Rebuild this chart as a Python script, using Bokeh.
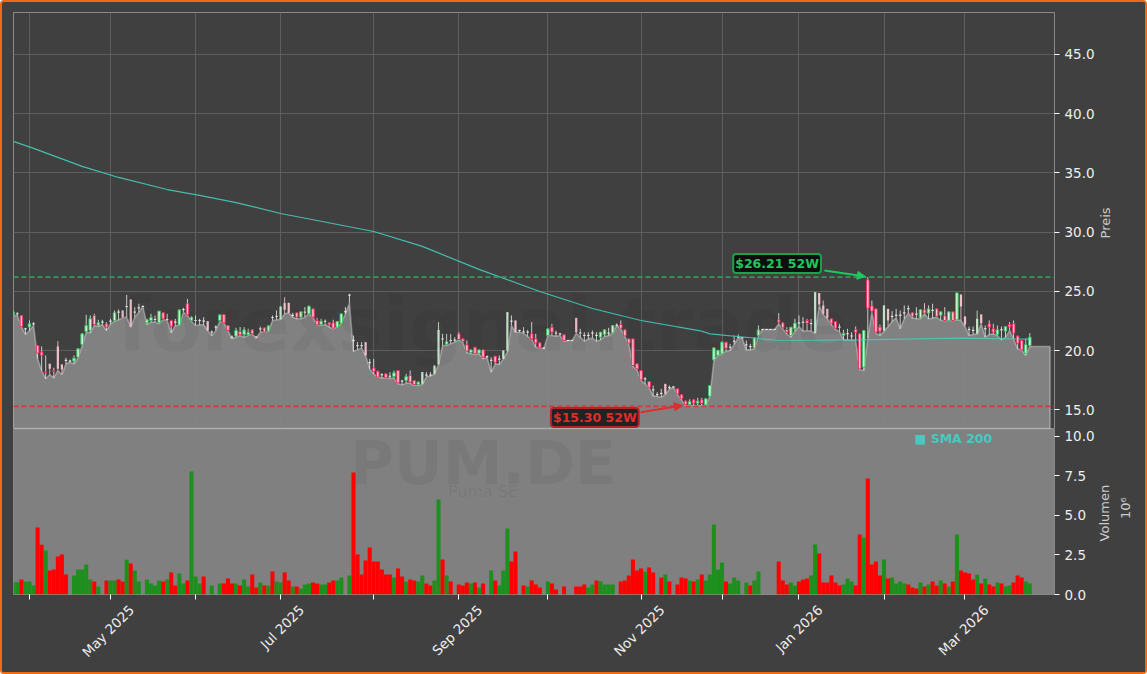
from math import pi
from bokeh.embed import file_html
from bokeh.resources import INLINE
from bokeh.plotting import figure
from bokeh.layouts import column
from bokeh.models import (FixedTicker, Label, LinearAxis, Span, Arrow, NormalHead,
                          NumeralTickFormatter)

opens = [
 23.06,23.13,22.97,21.85,21.99,22.28,20.44,19.88,18.20,18.89,
 18.30,20.36,18.84,19.20,19.13,19.12,19.46,20.53,21.62,21.71,
 22.97,22.13,22.42,22.27,22.51,22.55,23.27,23.39,23.74,24.32,
 23.27,23.63,23.73,22.35,22.55,22.64,22.35,23.20,22.64,22.55,
 22.42,22.18,23.47,23.96,22.55,22.56,22.56,22.50,22.49,21.57,
 22.00,22.55,23.06,22.13,21.16,21.23,21.62,21.34,21.34,21.76,
 21.23,21.85,21.93,21.65,22.80,22.90,22.64,24.01,24.04,23.00,
 23.20,22.83,23.26,23.11,23.53,22.55,22.21,22.49,22.35,22.35,
 21.99,22.33,23.30,24.70,20.88,20.44,20.44,20.72,19.00,18.55,
 18.27,17.98,18.05,17.85,17.82,18.33,17.44,17.49,17.91,17.49,
 17.15,17.20,17.95,17.95,18.05,18.84,21.00,20.52,20.87,20.90,
 21.42,21.00,20.50,19.85,20.30,19.79,20.07,19.50,19.20,19.54,
 19.30,19.31,20.02,22.50,22.55,21.72,21.60,21.58,21.42,21.00,
 20.66,20.23,21.28,21.99,21.50,21.43,21.34,20.87,20.87,22.77,
 21.50,21.30,21.30,21.50,21.30,21.14,21.37,21.49,21.51,22.15,
 22.21,21.76,21.00,21.00,18.89,18.33,17.63,17.40,16.70,16.30,
 16.40,17.20,16.90,16.95,16.78,16.28,15.75,15.46,15.85,15.57,
 15.85,15.43,16.16,19.23,19.60,19.74,20.72,20.30,20.80,21.16,
 21.10,20.50,20.35,20.24,21.28,21.80,21.80,21.80,21.80,22.61,
 22.35,21.79,21.28,21.85,22.35,22.41,22.55,22.30,21.48,24.86,
 23.82,23.53,22.69,22.46,22.00,21.28,21.44,21.25,21.79,21.42,
 18.61,25.98,23.79,23.53,21.99,21.71,23.53,22.90,23.00,23.00,
 23.20,23.55,23.20,23.10,22.77,23.45,23.17,23.41,23.53,23.00,
 22.94,22.55,23.28,22.61,24.74,22.89,21.80,21.72,21.45,23.06,
 21.86,22.27,21.85,21.37,21.78,21.65,22.21,22.27,21.23,20.86,
 19.79,20.44]
closes = [
 23.25,23.11,22.04,21.82,22.27,22.25,19.79,19.60,18.15,18.47,
 18.25,18.47,18.42,19.18,19.11,19.37,20.16,21.42,22.13,22.69,
 22.21,22.35,22.40,21.99,22.49,23.20,23.25,22.83,23.72,21.99,
 23.25,23.60,23.72,22.61,22.80,22.62,23.34,22.69,22.62,22.07,
 22.40,23.45,23.45,23.03,22.83,22.54,22.54,22.48,21.71,21.55,
 21.98,23.03,22.35,21.71,21.14,21.71,21.34,21.76,21.54,21.42,
 21.06,21.83,21.57,22.10,22.78,22.88,23.73,23.45,23.20,22.98,
 22.83,23.28,23.24,23.76,22.83,22.18,22.49,22.47,22.18,21.90,
 22.47,23.11,23.28,24.68,20.84,20.42,20.42,19.60,18.98,18.24,
 17.77,17.96,17.71,17.83,18.13,17.29,17.42,17.82,17.35,17.15,
 17.35,18.19,17.93,17.93,18.75,21.76,20.98,20.78,20.85,20.88,
 20.95,20.80,19.96,20.07,19.74,20.07,19.45,19.48,19.18,19.03,
 19.28,20.02,23.25,22.48,21.56,21.70,21.58,21.56,21.00,20.66,
 20.24,20.21,21.85,21.56,21.48,21.41,20.86,20.86,20.86,21.56,
 21.48,21.28,21.28,21.48,21.28,21.56,21.76,21.47,22.13,22.13,
 21.90,21.25,20.64,18.75,18.47,17.54,17.61,16.92,16.68,16.28,
 16.38,16.36,16.88,16.93,16.36,15.94,15.46,15.71,15.57,15.74,
 15.57,15.94,17.06,20.24,20.02,20.72,20.21,20.28,20.78,21.14,
 21.08,20.48,20.33,21.09,21.76,21.79,21.79,21.79,21.79,22.41,
 21.93,21.56,21.99,22.32,22.33,22.39,22.32,22.28,24.94,23.90,
 23.11,22.77,22.32,21.90,21.98,21.48,21.42,21.23,21.56,18.47,
 21.71,23.59,23.34,21.56,21.65,23.82,22.55,22.88,22.98,22.98,
 23.18,23.53,22.91,23.08,23.45,23.17,23.53,23.39,22.89,23.28,
 22.55,23.28,22.55,24.88,23.73,22.21,21.78,21.70,22.69,22.32,
 21.84,21.99,21.56,21.76,21.76,22.04,21.99,21.48,20.64,20.07,
 20.50,21.14]
highs = [
 23.39,23.25,23.00,21.93,22.55,22.41,20.44,20.36,19.60,18.89,
 18.56,20.81,18.84,19.40,19.25,19.60,20.20,21.50,23.03,22.97,
 23.11,22.61,22.61,22.41,22.69,23.39,23.48,23.39,24.72,24.32,
 23.68,23.96,23.84,22.70,23.11,22.97,23.34,23.25,23.11,22.60,
 22.69,23.45,23.62,24.38,22.90,22.97,22.69,22.83,22.49,21.71,
 22.13,23.03,23.06,22.15,21.28,21.93,21.99,21.99,21.85,21.80,
 21.25,22.04,21.95,22.10,22.97,23.39,23.73,24.52,24.04,23.20,
 23.22,23.30,23.68,23.80,23.55,22.78,22.69,22.64,22.40,22.61,
 22.50,23.11,23.68,24.80,21.28,20.72,20.72,20.72,19.31,19.31,
 18.30,18.10,18.05,18.19,18.33,18.33,17.54,18.05,18.33,17.50,
 17.40,18.19,18.19,18.19,18.75,22.41,21.42,21.42,21.42,21.14,
 21.56,21.00,20.86,20.10,20.30,20.10,20.07,19.60,19.45,19.54,
 19.60,20.02,23.25,22.97,22.55,21.76,21.99,21.76,22.41,21.42,
 20.70,20.28,21.85,22.27,21.70,21.50,21.36,20.90,20.90,22.77,
 21.85,21.56,21.56,21.70,21.56,21.58,21.80,21.93,22.15,22.30,
 22.55,21.80,21.05,21.00,18.90,18.35,17.77,17.40,17.06,16.50,
 16.78,17.20,17.06,17.00,16.80,16.30,15.80,15.90,15.90,16.02,
 16.02,16.00,17.10,20.30,20.10,20.80,20.75,20.58,21.28,21.37,
 21.14,20.86,20.58,21.10,22.13,21.82,21.82,21.82,21.82,23.17,
 22.40,21.99,22.00,22.69,22.97,22.83,22.69,22.69,24.94,24.86,
 24.24,23.53,22.70,22.50,22.27,21.76,21.85,21.56,22.04,21.45,
 21.75,26.21,24.24,23.55,22.20,23.82,23.53,23.34,23.53,23.39,
 23.82,23.82,23.25,23.67,23.50,24.01,23.82,23.96,23.55,23.30,
 23.67,23.30,23.30,24.88,24.74,22.89,22.04,22.04,23.39,23.06,
 22.13,22.55,22.27,22.13,22.04,22.06,22.41,22.55,21.28,20.90,
 21.00,21.48]
lows = [
 22.97,22.97,22.04,21.37,21.71,22.13,19.32,18.33,17.63,17.99,
 17.71,18.33,17.99,18.89,19.03,18.89,19.40,20.44,21.57,21.51,
 22.13,22.04,22.21,21.71,22.27,22.49,22.61,22.78,22.83,21.99,
 22.83,23.25,23.72,22.21,22.41,22.41,22.27,22.64,22.55,21.51,
 22.13,22.15,23.25,22.97,22.49,22.13,22.19,22.19,21.71,21.26,
 21.71,22.49,22.35,21.71,21.00,21.14,21.28,21.14,21.28,21.40,
 21.06,21.57,21.57,21.62,22.55,22.61,22.64,23.11,23.20,22.83,
 22.69,22.69,22.83,23.11,22.83,22.13,22.13,22.21,21.99,21.85,
 21.99,22.33,23.11,24.01,19.93,20.07,20.24,19.60,18.47,18.05,
 17.77,17.71,17.71,17.65,17.71,17.20,17.12,17.26,17.26,17.09,
 17.06,17.15,17.82,17.85,18.05,18.84,20.44,20.44,20.58,20.72,
 20.92,20.72,19.82,19.74,19.68,19.74,19.31,19.45,18.19,18.89,
 18.84,19.31,19.88,22.13,21.56,21.56,21.48,21.20,21.00,20.30,
 20.21,20.21,21.28,21.28,21.23,21.28,20.80,20.86,20.86,21.48,
 21.14,20.80,21.00,21.06,20.80,20.92,21.20,21.28,21.48,22.13,
 21.85,21.20,20.58,18.67,18.39,17.49,17.20,16.87,16.19,16.13,
 16.08,16.30,16.75,16.92,16.30,15.85,15.38,15.38,15.38,15.38,
 15.38,15.38,16.16,19.17,19.60,19.74,19.96,20.02,20.52,21.09,
 21.06,20.07,20.07,20.16,21.28,21.79,21.79,21.79,21.79,22.27,
 21.85,21.42,21.14,21.65,22.04,21.65,21.71,21.65,21.48,23.82,
 23.05,22.69,22.21,21.79,21.62,20.92,20.92,20.86,20.92,18.39,
 18.33,21.06,23.25,21.48,21.28,21.65,22.04,22.46,22.77,21.85,
 22.69,23.17,22.77,22.69,22.69,23.11,22.69,22.75,22.83,22.55,
 22.55,22.55,22.55,22.61,22.55,22.04,21.28,21.37,21.42,22.27,
 21.14,21.37,21.42,21.28,20.92,21.14,21.71,21.00,20.16,20.07,
 19.60,20.35]
area_tail = [20.35, 20.35, 20.35, 20.35, 20.35]
pale_bars = [9,11,12,27,29,48,60,66,67,68,87,101,104,105,121,122,124,139,161,
             198,199,200,201,215,216,234,235,238,239]
volumes = [
 .78,.78,.95,.82,.82,.57,4.24,3.14,2.78,1.52,
 1.58,2.41,2.53,1.27,0,1.2,1.58,1.58,1.9,.95,
 .82,.5,0,.89,.89,.89,.95,.82,2.2,1.96,
 1.52,.82,0,.95,.7,.57,.89,.82,.95,1.39,
 .57,1.33,.7,.89,7.78,1.14,.7,1.14,0,.57,
 0,.7,.7,1.01,.7,.7,.57,.95,.5,1.27,
 .44,.76,.57,.57,1.46,.82,.76,1.39,.89,.5,
 .5,.38,.63,.7,.76,.7,.63,.63,.76,.89,
 .89,1.08,0,1.2,7.72,2.53,1.27,2.15,2.97,2.09,
 2.09,1.58,1.27,1.27,1.08,1.65,1.14,.82,.95,.89,
 .82,1.2,.7,.57,.89,6.01,2.22,1.2,.82,0,
 .63,.57,.76,.7,.76,.44,.7,0,1.52,.89,
 .57,1.52,4.18,2.09,2.72,0,.57,.5,.89,.63,
 .44,0,.82,.7,.32,0,.5,0,0,.5,
 .5,.63,.44,.63,.89,.82,.63,.63,.63,0,
 .82,.89,1.2,2.22,1.52,1.65,1.46,1.71,1.39,0,
 1.08,1.27,.82,0,.63,1.08,1.01,.89,.82,.95,
 1.27,.89,1.27,4.43,1.58,2.03,.82,.7,1.08,.89,
 0,.76,.57,.89,1.46,0,0,0,0,2.09,
 .89,.63,.76,.57,.82,.95,1.01,1.2,3.16,2.59,
 .76,.76,1.2,.76,.57,.63,1.01,.82,.57,3.8,
 3.61,7.34,1.9,2.09,1.2,2.22,1.01,1.08,.7,.82,
 .7,.63,.44,.38,.76,.5,.63,.82,.57,.89,
 .7,.5,.82,3.8,1.52,1.39,1.33,.95,1.27,.7,
 1.01,.63,.5,.76,.7,.5,.57,.76,1.2,1.08,
 .82,.7]
vol_dir = list(
 "GGRGGGRRGR" "RRRRGGGGGG" "RGGRGGRRGR" "GGGGGGGRGR" "RGGRGGGRGG"
 "GGRRRGRGGR" "RGRGRGGRRG" "RGGGRRGGRR" "GGGGRRRRRR" "RRRRGRRGRR"
 "GGRRGGRGRG" "RRRGRGRGGR" "GGGRRGRGRR" "RGGRRGRGGR" "RRGGRGGGGG"
 "RRRRRRGRRG" "RGRGRRRGRG" "RGGGGGRGGG" "GGRGGGGGGR" "RRGGRRRGGR"
 "RRRRRGGGRR" "GRRRRGRGGG" "GRRRGRGRRG" "RGRGRRRRGR" "GRRGRGGRRR" "GG")
sma_idx = [0,5,17,26,38,46,55,66,75,89,101,115,130,143,155,170,172,184,189,209,234,251]
sma_val = [37.66,37.07,35.55,34.62,33.60,33.10,32.50,31.58,30.99,30.06,28.80,26.86,
           25.00,23.56,22.55,21.65,21.42,21.03,20.86,20.92,21.06,20.97]
month_ticks = [4,24,45,66,89,110,132,155,175,194,215,235]
month_labels = ["","May 2025","","Jul 2025","","Sep 2025","","Nov 2025","","Jan 2026","","Mar 2026"]
price_ticks = [15,20,25,30,35,40,45]
vol_ticks = [0,2.5,5,7.5,10]
high_52w = 26.21
low_52w = 15.30
high_label = "$26.21 52W"
low_label = "$15.30 52W"

assert all(len(s) == 252 for s in (opens, closes, highs, lows, volumes, vol_dir)), \
    [len(s) for s in (opens, closes, highs, lows, volumes, vol_dir)]

BG = "#404040"
FONT = "DejaVu Sans"
ORANGE = "#f26a10"
xr = (0.05, 257.1)

p1 = figure(width=1143, height=427, x_range=xr, y_range=(13.35, 48.54), output_backend="svg",
            toolbar_location=None, y_axis_location="right", min_border_top=10, min_border_bottom=0,
            min_border_left=11, min_border_right=91, background_fill_color=BG, border_fill_color=BG,
            outline_line_color="#8a8a8a")
p2 = figure(width=1143, height=243, x_range=p1.x_range, y_range=(0, 10.44), output_backend="svg",
            toolbar_location=None, y_axis_location="right", min_border_top=0, min_border_bottom=78,
            min_border_left=11, min_border_right=91, background_fill_color="#808080", border_fill_color=BG,
            outline_line_color="#8a8a8a")
for p in (p1, p2):
    for ax in p.yaxis:
        ax.axis_line_color = None
        ax.major_tick_line_color = "#ffffff"
        ax.major_tick_out = 5
        ax.major_tick_in = 0
        ax.minor_tick_line_color = None
        ax.major_label_text_color = "#eeeeee"
        ax.major_label_text_font = FONT
        ax.major_label_text_font_size = "13.5px"
        ax.major_label_standoff = 5
    p.ygrid.grid_line_color = "#5e5e5e"
    p.xgrid.grid_line_color = "#5e5e5e"
    p.xgrid.ticker = FixedTicker(ticks=month_ticks)

p1.xaxis.visible = False
p1.yaxis.ticker = FixedTicker(ticks=price_ticks)
p1.yaxis.formatter = NumeralTickFormatter(format="0.0")

p2.ygrid.visible = False
p2.xgrid.visible = False
p2.yaxis.ticker = FixedTicker(ticks=vol_ticks)
p2.yaxis.formatter = NumeralTickFormatter(format="0.0")
p2.xaxis.ticker = FixedTicker(ticks=month_ticks)
p2.xaxis.major_label_overrides = {t: "" for t in month_ticks}
p2.xaxis.axis_line_color = None
p2.xaxis.major_tick_line_color = "#ffffff"
p2.xaxis.major_tick_out = 5
p2.xaxis.major_tick_in = 0
p2.xaxis.minor_tick_line_color = None


def text_axis(p, place, ticks, texts, angle, size, color, standoff):
    """An axis with no line and no ticks: it only carries rotated texts outside the frame."""
    ax = LinearAxis(ticker=FixedTicker(ticks=ticks),
                    major_label_overrides=dict(zip(ticks, texts)),
                    major_label_orientation=angle, major_label_standoff=standoff,
                    major_label_text_font=FONT, major_label_text_font_size=size,
                    major_label_text_color=color, axis_line_color=None,
                    major_tick_line_color=None, minor_tick_line_color=None,
                    major_tick_out=0, major_tick_in=0)
    p.add_layout(ax, place)
    return ax


text_axis(p1, "right", [29.47], ["Preis"], pi / 2, "13px", "#cccccc", 8)
text_axis(p2, "right", [3.36], ["Volumen"], pi / 2, "13px", "#cccccc", 7)
text_axis(p2, "right", [4.78], ["10⁶"], pi / 2, "13px", "#cccccc", 3)
# rotated month names hang from their end, so that they centre on the month tick above
month_shift = 5.2
named = [(t, lab) for t, lab in zip(month_ticks, month_labels) if lab]
text_axis(p2, "below", [t + month_shift for t, _ in named], [lab for _, lab in named], pi / 4,
          "13.5px", "#eeeeee", 8)

# area under the daily lows, closing at the panel foot
area_y = lows + area_tail
area_x = list(range(len(area_y)))
base = 13.44
p1.patch(x=[area_x[0]] + area_x + [area_x[-1]], y=[base] + area_y + [base],
         fill_color="#848484", fill_alpha=0.96, line_color="#ffffff", line_alpha=0.34, line_width=1.6)

# candles
GREEN_EDGE, GREEN_FILL = "#3fbf63", "#d9f5dd"
RED_EDGE, RED_FILL = "#e9305f", "#ffc6d2"
PALE_GREEN, PALE_RED = "#c3e3c8", "#eec0ca"
n = len(opens)
idx = list(range(n))
body_top = [max(o, c) for o, c in zip(opens, closes)]
body_bot = [min(o, c) for o, c in zip(opens, closes)]
wick_col, kind = [], []
for i in idx:
    up = closes[i] >= opens[i]
    if i in pale_bars:
        kind.append("pale")
        wick_col.append(PALE_GREEN if up else PALE_RED)
    elif abs(closes[i] - opens[i]) < 0.05:
        kind.append("doji")
        wick_col.append("#e6e6e6")
    else:
        kind.append("body")
        wick_col.append("#e6e6e6")
p1.segment(idx, highs, idx, lows, line_color=wick_col, line_width=1, line_alpha=0.85)


def subset(name):
    return [i for i in idx if kind[i] == name]


b = subset("body")
p1.vbar(x=b, top=[body_top[i] for i in b], bottom=[body_bot[i] for i in b], width=0.62,
        fill_color=[GREEN_FILL if closes[i] >= opens[i] else RED_FILL for i in b],
        line_color=[GREEN_EDGE if closes[i] >= opens[i] else RED_EDGE for i in b], line_width=1)
b = subset("pale")
p1.vbar(x=b, top=[body_top[i] for i in b], bottom=[body_bot[i] for i in b], width=0.55,
        fill_color=[wick_col[i] for i in b], line_color=None)
b = subset("doji")
p1.vbar(x=b, top=[body_top[i] + 0.04 for i in b], bottom=[body_bot[i] - 0.04 for i in b], width=0.6,
        fill_color="#e6e6e6", line_color=None)

# SMA
p1.line(sma_idx, sma_val, line_color="#48c9b8", line_width=1.2, line_alpha=0.9)

# 52-week levels
p1.add_layout(Span(location=high_52w, dimension="width", line_color="#2e9e62", line_width=1.8,
                   line_dash=[5, 3], line_alpha=0.95))
p1.add_layout(Span(location=low_52w, dimension="width", line_color="#d93636", line_width=1.8,
                   line_dash=[5, 3], line_alpha=0.95))

# watermarks
p1.add_layout(Label(x=116, y=22.13, text="forexsignal.trade", text_font=FONT, text_font_style="bold",
                    text_font_size="75px", text_color="#000000", text_alpha=0.04,
                    text_align="center", text_baseline="middle"))
p2.add_layout(Label(x=116, y=8.35, text="PUM.DE", text_font=FONT, text_font_style="bold",
                    text_font_size="60px", text_color="#000000", text_alpha=0.05,
                    text_align="center", text_baseline="middle"))
p2.add_layout(Label(x=116, y=6.52, text="Puma SE", text_font=FONT,
                    text_font_size="16px", text_color="#000000", text_alpha=0.07,
                    text_align="center", text_baseline="middle"))

# 52-week callouts
p1.add_layout(Arrow(x_start=200.3, y_start=26.77, x_end=210.4, y_end=26.26,
                    line_color="#22c55e", line_width=2,
                    end=NormalHead(size=8, fill_color="#22c55e", line_color="#22c55e")))
p1.add_layout(Arrow(x_start=154.9, y_start=14.80, x_end=165.2, y_end=15.38,
                    line_color="#e02d2d", line_width=2,
                    end=NormalHead(size=8, fill_color="#e02d2d", line_color="#e02d2d")))
p1.add_layout(Label(x=188.6, y=27.36, text=high_label, text_font=FONT, text_font_style="bold",
                    text_font_size="12.5px", text_color="#22c55e", text_align="center",
                    text_baseline="middle", background_fill_color="#0a0a0a", background_fill_alpha=0.92,
                    border_line_color="#16a34a", border_line_width=2, padding=2, border_radius=3))
p1.add_layout(Label(x=143.6, y=14.37, text=low_label, text_font=FONT, text_font_style="bold",
                    text_font_size="12.5px", text_color="#e02d2d", text_align="center",
                    text_baseline="middle", background_fill_color="#1a1a1a", background_fill_alpha=0.92,
                    border_line_color="#b32424", border_line_width=2, padding=2, border_radius=3))

# volume bars
cols = ["#ff0000" if d == "R" else "#1c8f1c" for d in vol_dir]
p2.vbar(x=idx, top=volumes, bottom=0, width=1.0, fill_color=cols, line_color=None)

# legend text inside the frame ("screen" is relative to the frame)
p2.add_layout(Label(x=901, y=156, x_units="screen", y_units="screen", text="■ SMA 200",
                    text_font=FONT, text_font_style="bold", text_font_size="12.5px",
                    text_color="#48c9c0", text_baseline="middle"))

root = column(p1, p2, spacing=0, margin=(2, 0, 0, 2),
              styles={"background-color": BG, "border-radius": "2px",
                      "box-shadow": f"0 0 0 2px {ORANGE}"})
open("out.html", "w").write(file_html(root, INLINE))
